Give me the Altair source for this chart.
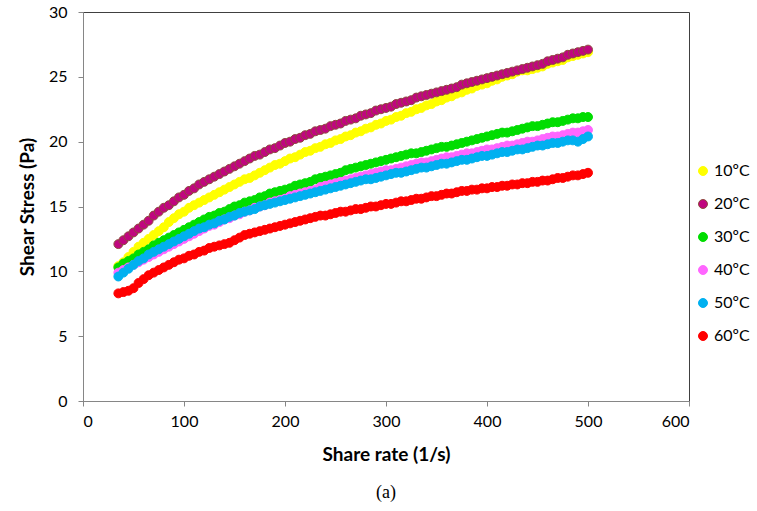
import altair as alt
import pandas as pd

# Shear rate (1/s) at which every sample was measured
shear_rate = list(range(35, 505, 5))

temperatures = ["10ºC", "20ºC", "30ºC", "40ºC", "50ºC", "60ºC"]
fill_colors = ["#FFFF00", "#C0067F", "#00DD00", "#FF66FF", "#00B0F0", "#FF0000"]
edge_colors = ["#FFFF00", "#8E4A3C", "#00DD00", "#FF66FF", "#00B0F0", "#FF0000"]

# Shear stress (Pa) per temperature
stress_10 = [
    10.4, 10.7, 11.1, 11.5, 11.9, 12.2, 12.5, 12.8, 13.1, 13.4,
    13.8, 14.1, 14.4, 14.6, 14.9, 15.1, 15.3, 15.5, 15.7, 15.9,
    16.1, 16.3, 16.5, 16.7, 16.9, 17.1, 17.2, 17.4, 17.6, 17.8,
    18.0, 18.2, 18.3, 18.5, 18.7, 18.8, 19.0, 19.2, 19.3, 19.5,
    19.6, 19.8, 19.9, 20.1, 20.2, 20.4, 20.5, 20.7, 20.8, 21.0,
    21.1, 21.3, 21.4, 21.6, 21.7, 21.9, 22.0, 22.2, 22.3, 22.5,
    22.6, 22.8, 22.9, 23.1, 23.2, 23.4, 23.5, 23.7, 23.8, 24.0,
    24.1, 24.3, 24.4, 24.5, 24.7, 24.8, 25.0, 25.1, 25.2, 25.4,
    25.5, 25.5, 25.6, 25.7, 25.8, 26.0, 26.1, 26.2, 26.3, 26.5,
    26.6, 26.7, 26.8, 26.9,
]
stress_20 = [
    12.1, 12.4, 12.7, 13.0, 13.3, 13.6, 13.9, 14.3, 14.6, 14.9,
    15.1, 15.4, 15.7, 15.9, 16.2, 16.4, 16.7, 16.9, 17.1, 17.3,
    17.5, 17.7, 17.9, 18.1, 18.3, 18.5, 18.7, 18.9, 19.0, 19.2,
    19.4, 19.5, 19.7, 19.9, 20.0, 20.2, 20.3, 20.5, 20.6, 20.8,
    20.9, 21.0, 21.2, 21.3, 21.4, 21.6, 21.7, 21.8, 22.0, 22.1,
    22.2, 22.4, 22.5, 22.6, 22.7, 22.9, 23.0, 23.1, 23.2, 23.4,
    23.5, 23.6, 23.7, 23.8, 23.9, 24.0, 24.1, 24.2, 24.4, 24.5,
    24.6, 24.7, 24.8, 24.9, 25.0, 25.1, 25.2, 25.3, 25.4, 25.5,
    25.6, 25.7, 25.8, 25.9, 26.0, 26.2, 26.3, 26.4, 26.5, 26.7,
    26.8, 26.9, 27.0, 27.1,
]
stress_30 = [
    10.3, 10.6, 10.8, 11.0, 11.3, 11.5, 11.7, 12.0, 12.2, 12.4,
    12.6, 12.8, 13.0, 13.2, 13.4, 13.6, 13.8, 14.0, 14.2, 14.3,
    14.5, 14.6, 14.8, 15.0, 15.1, 15.3, 15.4, 15.5, 15.7, 15.8,
    16.0, 16.1, 16.2, 16.3, 16.4, 16.6, 16.7, 16.8, 16.9, 17.1,
    17.2, 17.3, 17.4, 17.5, 17.6, 17.8, 17.9, 18.0, 18.1, 18.2,
    18.3, 18.4, 18.5, 18.6, 18.7, 18.8, 18.9, 19.0, 19.1, 19.1,
    19.2, 19.3, 19.4, 19.5, 19.6, 19.6, 19.7, 19.8, 19.9, 20.0,
    20.1, 20.2, 20.3, 20.4, 20.5, 20.6, 20.7, 20.7, 20.8, 20.9,
    21.0, 21.1, 21.2, 21.2, 21.3, 21.4, 21.5, 21.5, 21.6, 21.7,
    21.8, 21.8, 21.9, 21.9,
]
stress_40 = [
    9.9, 10.1, 10.3, 10.5, 10.7, 10.9, 11.1, 11.3, 11.5, 11.7,
    11.9, 12.1, 12.3, 12.5, 12.7, 12.9, 13.1, 13.3, 13.5, 13.6,
    13.8, 14.0, 14.1, 14.3, 14.4, 14.6, 14.7, 14.9, 15.0, 15.1,
    15.3, 15.4, 15.5, 15.6, 15.8, 15.9, 16.0, 16.1, 16.2, 16.3,
    16.5, 16.6, 16.7, 16.8, 16.9, 17.0, 17.1, 17.2, 17.3, 17.4,
    17.5, 17.6, 17.7, 17.8, 17.8, 17.9, 18.0, 18.1, 18.2, 18.3,
    18.4, 18.4, 18.5, 18.6, 18.7, 18.8, 18.8, 18.9, 19.0, 19.1,
    19.1, 19.2, 19.3, 19.4, 19.4, 19.5, 19.6, 19.7, 19.7, 19.8,
    19.9, 20.0, 20.0, 20.1, 20.2, 20.3, 20.4, 20.4, 20.5, 20.6,
    20.7, 20.7, 20.8, 20.9,
]
stress_50 = [
    9.6, 9.9, 10.2, 10.5, 10.8, 11.0, 11.3, 11.5, 11.7, 11.9,
    12.1, 12.3, 12.5, 12.7, 12.9, 13.1, 13.3, 13.4, 13.6, 13.7,
    13.9, 14.0, 14.2, 14.3, 14.5, 14.6, 14.7, 14.8, 15.0, 15.1,
    15.2, 15.3, 15.4, 15.5, 15.6, 15.7, 15.8, 15.9, 16.0, 16.1,
    16.2, 16.3, 16.4, 16.5, 16.6, 16.7, 16.8, 16.9, 17.0, 17.1,
    17.1, 17.2, 17.3, 17.4, 17.5, 17.6, 17.6, 17.7, 17.8, 17.9,
    18.0, 18.0, 18.1, 18.2, 18.3, 18.3, 18.4, 18.5, 18.6, 18.6,
    18.7, 18.8, 18.9, 18.9, 19.0, 19.1, 19.2, 19.2, 19.3, 19.4,
    19.4, 19.5, 19.6, 19.7, 19.7, 19.8, 19.9, 19.9, 20.0, 20.1,
    20.1, 20.0, 20.2, 20.4,
]
stress_60 = [
    8.3, 8.4, 8.5, 8.7, 9.1, 9.4, 9.7, 9.9, 10.1, 10.3,
    10.5, 10.7, 10.9, 11.0, 11.2, 11.3, 11.5, 11.6, 11.8, 11.9,
    12.0, 12.1, 12.2, 12.4, 12.6, 12.8, 12.9, 13.0, 13.1, 13.2,
    13.3, 13.4, 13.5, 13.6, 13.7, 13.8, 13.9, 14.0, 14.1, 14.2,
    14.3, 14.3, 14.4, 14.5, 14.6, 14.6, 14.7, 14.8, 14.8, 14.9,
    15.0, 15.0, 15.1, 15.2, 15.2, 15.3, 15.4, 15.4, 15.5, 15.6,
    15.6, 15.7, 15.8, 15.8, 15.9, 16.0, 16.0, 16.1, 16.2, 16.2,
    16.3, 16.3, 16.4, 16.4, 16.5, 16.5, 16.6, 16.6, 16.7, 16.7,
    16.8, 16.8, 16.9, 16.9, 17.0, 17.0, 17.1, 17.2, 17.2, 17.3,
    17.4, 17.4, 17.5, 17.6,
]

series = [stress_10, stress_20, stress_30, stress_40, stress_50, stress_60]

rows = []
for rank, (label, values) in enumerate(zip(temperatures, series)):
    for rate, stress in zip(shear_rate, values):
        rows.append({"rate": rate, "stress": stress, "temp": label, "rank": rank})
df = pd.DataFrame(rows)

FONT = "Lato"

legend = alt.Legend(
    title=None,
    orient="none",
    legendX=612,
    legendY=151,
    symbolType="circle",
    symbolSize=80,
    symbolStrokeWidth=1,
    labelFont=FONT,
    labelFontSize=16,
    labelColor="#000000",
    labelOffset=3,
    rowPadding=17,
    padding=0,
)

chart = (
    alt.Chart(df)
    .mark_circle(size=80, opacity=1, strokeWidth=1)
    .encode(
        x=alt.X(
            "rate:Q",
            scale=alt.Scale(domain=[0, 600], nice=False),
            axis=alt.Axis(
                values=[0, 100, 200, 300, 400, 500, 600],
                title="Share rate (1/s)",
                titlePadding=16,
                labelPadding=7,
            ),
        ),
        y=alt.Y(
            "stress:Q",
            scale=alt.Scale(domain=[0, 30], nice=False),
            axis=alt.Axis(
                values=[0, 5, 10, 15, 20, 25, 30],
                title="Shear Stress (Pa)",
                titlePadding=11,
                labelPadding=11,
            ),
        ),
        fill=alt.Fill(
            "temp:N",
            scale=alt.Scale(domain=temperatures, range=fill_colors),
            legend=legend,
        ),
        stroke=alt.Stroke(
            "temp:N",
            scale=alt.Scale(domain=temperatures, range=edge_colors),
            legend=legend,
        ),
        order=alt.Order("rank:Q"),
    )
    .properties(
        width=606,
        height=389,
        padding={"left": 83, "top": 12, "right": 68, "bottom": 110},
        autosize=alt.AutoSizeParams(type="none"),
        title=alt.TitleParams(
            text="(a)",
            orient="bottom",
            anchor="middle",
            font="Liberation Serif",
            fontSize=18,
            fontWeight="normal",
            color="#000000",
            offset=20,
        ),
    )
    .configure_view(stroke="#404040", strokeWidth=1)
    .configure_axis(
        grid=False,
        domainColor="#868686",
        domainWidth=1,
        tickColor="#868686",
        tickSize=5,
        labelFont=FONT,
        labelFontSize=16,
        labelColor="#000000",
        titleFont=FONT,
        titleFontSize=19,
        titleFontWeight="bold",
        titleColor="#000000",
    )
)

chart.save("out.html", embed_options={"renderer": "svg", "actions": False})
